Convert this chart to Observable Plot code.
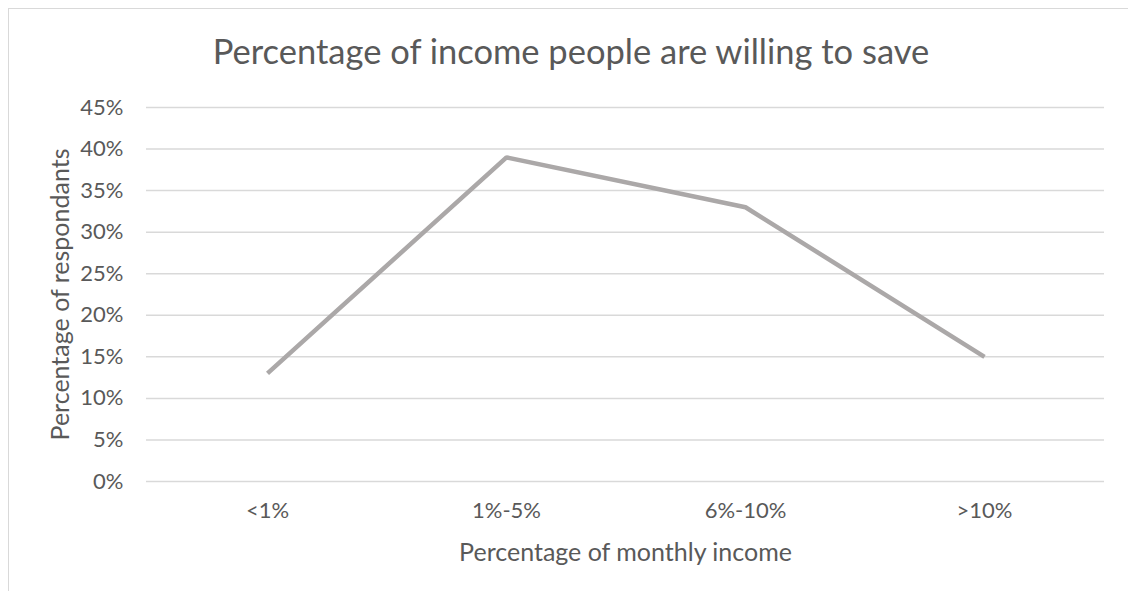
<!DOCTYPE html>
<html>
<head>
<meta charset="utf-8">
<script src="https://cdn.jsdelivr.net/npm/d3@7"></script>
<script src="https://cdn.jsdelivr.net/npm/@observablehq/plot@0.6"></script>
<style>
  html, body { margin: 0; padding: 0; background: #fff; }
  #wrap { position: relative; width: 1128px; height: 591px; overflow: hidden; font-family: Lato, "Noto Sans", sans-serif; }
  #frame { position: absolute; left: 8px; top: 8px; width: 1200px; height: 700px; border-top: 1px solid #d9d9d9; border-left: 1px solid #d9d9d9; box-sizing: border-box; }
  #title { position: absolute; left: 0; top: 31px; width: 1142px; text-align: center; font-size: 34.5px; color: #595959; line-height: 40px; }
  #chart { position: absolute; left: 0; top: 85px; }
  #chart svg { overflow: visible; }
</style>
</head>
<body>
<div id="wrap">
  <div id="frame"></div>
  <div id="title">Percentage of income people are willing to save</div>
  <div id="chart"></div>
</div>
<script>
const categories = ["<1%", "1%-5%", "6%-10%", ">10%"];
const values = [0.13, 0.39, 0.33, 0.15];
const yTicks = [0, 0.05, 0.10, 0.15, 0.20, 0.25, 0.30, 0.35, 0.40, 0.45];
const xTitle = "Percentage of monthly income";
const yTitle = "Percentage of respondants";

const data = categories.map((c, i) => ({category: c, value: values[i]}));
const textColor = "#595959";

const plot = Plot.plot({
  width: 1128,
  height: 506,
  marginLeft: 146,
  marginRight: 24,
  marginTop: 22,
  marginBottom: 110,
  style: {fontFamily: "Lato, 'Noto Sans', sans-serif", fontSize: "22px", color: textColor, background: "transparent", overflow: "visible"},
  x: {type: "point", domain: categories, padding: 0.5},
  y: {domain: [0, 0.45]},
  marks: [
    Plot.ruleY(yTicks, {stroke: "#d9d9d9", strokeWidth: 1.5}),
    Plot.axisY(yTicks, {tickSize: 0, tickPadding: 23, tickFormat: d => Math.round(d * 100) + "%", label: null, fill: textColor, fontSize: 22}),
    Plot.axisX({tickSize: 0, tickPadding: 21, label: null, fill: textColor, fontSize: 22}),
    Plot.line(data, {x: "category", y: "value", stroke: "#aba8a8", strokeWidth: 4.5, strokeLinejoin: "miter", strokeLinecap: "butt"}),
    Plot.text([xTitle], {frameAnchor: "bottom", dy: 71, lineAnchor: "middle", textAnchor: "middle", text: d => d, fill: textColor, fontSize: 25}),
    Plot.text([yTitle], {frameAnchor: "left", dx: -86, rotate: -90, lineAnchor: "middle", textAnchor: "middle", text: d => d, fill: textColor, fontSize: 25})
  ]
});
document.getElementById("chart").appendChild(plot);
</script>
</body>
</html>
